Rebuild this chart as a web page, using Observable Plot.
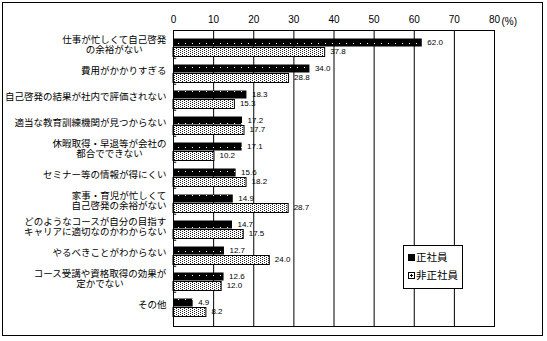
<!DOCTYPE html>
<html>
<head>
<meta charset="utf-8">
<script src="https://cdn.jsdelivr.net/npm/d3@7"></script>
<script src="https://cdn.jsdelivr.net/npm/@observablehq/plot@0.6"></script>
<style>
  html, body { margin: 0; padding: 0; background: #fff; }
  #wrap { position: relative; width: 547px; height: 341px; }
  #border { position: absolute; left: 2px; top: 2px; width: 541px; height: 334px; box-sizing: border-box; border: 1px solid #000; pointer-events: none; }
  #legend { position: absolute; left: 403px; top: 245px; width: 60px; height: 44px; box-sizing: border-box; border: 1px solid #000; background: #fff; font-family: "Noto Sans CJK JP", sans-serif; font-size: 10.5px; color: #000; }
  .row { position: absolute; left: 4px; height: 12px; line-height: 12px; display: flex; align-items: center; white-space: nowrap; }
  .sw1 { display: inline-block; width: 7px; height: 7px; background: #000; margin-right: 1px; }
  .sw2 { display: inline-block; width: 7px; height: 7px; box-sizing: border-box; border: 1px solid #000; margin-right: 1px; background: radial-gradient(circle, #000 0 1px, #fff 1.2px); }
</style>
</head>
<body>
<div id="wrap">
  <div id="chart"></div>
  <div id="legend">
    <div class="row" style="top:5px"><span class="sw1"></span>正社員</div>
    <div class="row" style="top:23px"><span class="sw2"></span>非正社員</div>
  </div>
  <div id="border"></div>
</div>
<script>
const categories = [
  "仕事が忙しくて自己啓発\nの余裕がない",
  "費用がかかりすぎる",
  "自己啓発の結果が社内で評価されない",
  "適当な教育訓練機関が見つからない",
  "休暇取得・早退等が会社の\n都合でできない",
  "セミナー等の情報が得にくい",
  "家事・育児が忙しくて\n自己啓発の余裕がない",
  "どのようなコースが自分の目指す\nキャリアに適切なのかわからない",
  "やるべきことがわからない",
  "コース受講や資格取得の効果が\n定かでない",
  "その他"
];
const regular = [62.0, 34.0, 18.3, 17.2, 17.1, 15.6, 14.9, 14.7, 12.7, 12.6, 4.9];
const nonRegular = [37.8, 28.8, 15.3, 17.7, 10.2, 18.2, 28.7, 17.5, 24.0, 12.0, 8.2];
const xTicks = [0, 10, 20, 30, 40, 50, 60, 70, 80];
const gridTicks = [10, 20, 30, 40, 50, 60, 70];
const seriesNames = ["正社員", "非正社員"];

const rowsA = categories.map((c, i) => ({cat: c, v: regular[i]}));
const rowsB = categories.map((c, i) => ({cat: c, v: nonRegular[i]}));

const bandTop = 29.5, bandBottom = 321;
const bw = (bandBottom - bandTop) / categories.length;
const jpFont = "Noto Sans CJK JP, sans-serif";
const labelSize = 9.5;

const labelMarks = categories.map(c => {
  const maxLen = Math.max(...c.split("\n").map(s => s.length));
  return Plot.text([c], {
    y: d => d, text: d => d, frameAnchor: "left", textAnchor: "middle",
    dx: -7 - maxLen * labelSize / 2, dy: -1, lineHeight: 1.12,
    fontSize: labelSize, fontFamily: jpFont, fill: "black"
  });
});

const svg = Plot.plot({
  width: 547, height: 341,
  marginTop: 30, marginLeft: 173, marginRight: 53, marginBottom: 15,
  style: {background: "white", fontFamily: "Liberation Sans, sans-serif", color: "black", overflow: "visible"},
  x: {domain: [0, 80], axis: null},
  y: {domain: categories, range: [bandTop, bandBottom], padding: 0, axis: null},
  marks: [
    Plot.ruleX(gridTicks, {stroke: "black", strokeWidth: 1}),
    Plot.axisX(xTicks, {anchor: "top", tickSize: 0, tickPadding: 8, fontSize: 10, label: null, fill: "black"}),
    Plot.text(["(%)"], {frameAnchor: "top-right", text: d => d, dx: 7, dy: -13, textAnchor: "start", fontSize: 10, fill: "black"}),
    Plot.barX(rowsA, {x1: 0, x2: "v", y: "cat", insetTop: 6.5, insetBottom: bw - 15, fill: "url(#patA)"}),
    Plot.barX(rowsB, {x1: 0, x2: "v", y: "cat", insetTop: 15.5, insetBottom: 1.5, fill: "url(#patB)", stroke: "black", strokeWidth: 1}),
    Plot.ruleY(categories.slice(1), {y: d => d, x1: 0, x2: 0.8, dy: -bw / 2, stroke: "black"}),
    Plot.text(rowsA, {x: "v", y: "cat", text: d => d.v.toFixed(1), dx: 5, dy: -bw / 2 + 10.5, textAnchor: "start", fontSize: 8, fill: "black"}),
    Plot.text(rowsB, {x: "v", y: "cat", text: d => d.v.toFixed(1), dx: 5, dy: -bw / 2 + 19.5, textAnchor: "start", fontSize: 8, fill: "black"}),
    Plot.frame({stroke: "black"}),
    ...labelMarks
  ]
});

const defs = d3.select(svg).insert("defs", ":first-child");
const pA = defs.append("pattern").attr("id", "patA").attr("patternUnits", "userSpaceOnUse").attr("width", 7).attr("height", 8);
pA.append("rect").attr("width", 7).attr("height", 8).attr("fill", "black");
pA.append("rect").attr("x", 3).attr("y", 3).attr("width", 1).attr("height", 1).attr("fill", "white");
const pB = defs.append("pattern").attr("id", "patB").attr("patternUnits", "userSpaceOnUse").attr("width", 4).attr("height", 2);
pB.append("rect").attr("width", 4).attr("height", 2).attr("fill", "white");
pB.append("rect").attr("x", 0).attr("y", 0).attr("width", 1).attr("height", 1).attr("fill", "#222");
pB.append("rect").attr("x", 2).attr("y", 1).attr("width", 1).attr("height", 1).attr("fill", "#222");

document.getElementById("chart").appendChild(svg);
</script>
</body>
</html>
